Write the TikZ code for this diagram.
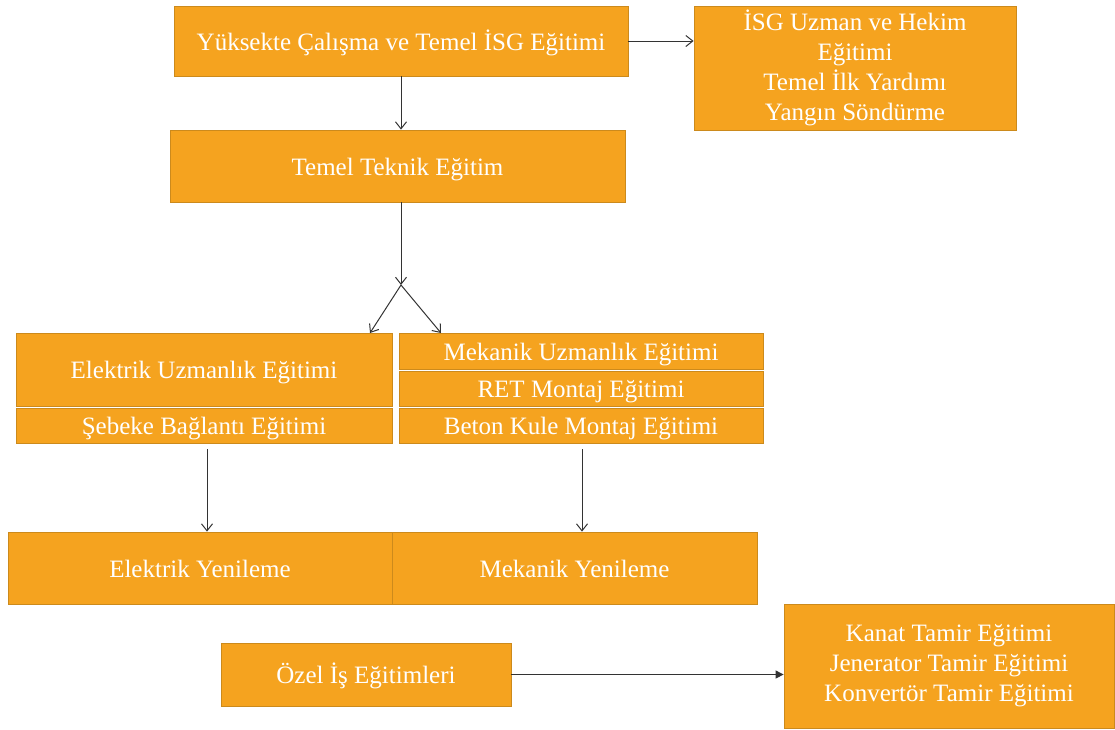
\documentclass[tikz,border=0pt]{standalone}
\usepackage{fontspec}
\setmainfont{Liberation Serif}
\usetikzlibrary{arrows.meta,calc}
\definecolor{boxfill}{HTML}{F5A31F}
\definecolor{boxline}{HTML}{CC8A1C}
\definecolor{linkcol}{HTML}{333333}
\tikzset{
  stage/.style={draw=boxline, line width=0.8pt, fill=boxfill, text=white,
    inner sep=0pt, align=center, font=\fontsize{25}{30}\selectfont},
  oneline/.style={stage, text height=18pt, text depth=0pt},
  flow/.style={draw=linkcol, line width=1pt, -{Straight Barb[length=7pt,width=11pt]}},
  flowsolid/.style={draw=linkcol, line width=1pt, -{Triangle[length=8pt,width=8pt]}}
}
\begin{document}
\begin{tikzpicture}[x=1pt,y=-1pt]
\useasboundingbox (0,0) rectangle (1115,729);

% top row
\node[oneline, minimum width=454pt, minimum height=70pt] (basic) at (401,41) {Yüksekte Çalışma ve Temel İSG Eğitimi};
\node[stage, minimum width=322pt, minimum height=124pt] (isg) at (855,68)
  {İSG Uzman ve Hekim\\Eğitimi\\Temel İlk Yardımı\\Yangın Söndürme};
\node[oneline, minimum width=455pt, minimum height=72pt] (tech) at (397.5,166) {Temel Teknik Eğitim};

% specialisation blocks
\node[oneline, minimum width=376pt, minimum height=73pt] (elec) at (204,369.5) {Elektrik Uzmanlık Eğitimi};
\node[oneline, minimum width=376pt, minimum height=35pt] (grid) at (204,425.5) {Şebeke Bağlantı Eğitimi};
\node[oneline, minimum width=364pt, minimum height=36pt] (mech) at (581,351) {Mekanik Uzmanlık Eğitimi};
\node[oneline, minimum width=364pt, minimum height=35pt] (ret) at (581,388.5) {RET Montaj Eğitimi};
\node[oneline, minimum width=364pt, minimum height=35pt] (tower) at (581,425.5) {Beton Kule Montaj Eğitimi};

% refresher training
\node[oneline, minimum width=384pt, minimum height=72pt] (erenew) at (200,568) {Elektrik Yenileme};
\node[oneline, minimum width=365pt, minimum height=72pt] (mrenew) at (574.5,568) {Mekanik Yenileme};

% special jobs
\node[oneline, minimum width=290pt, minimum height=63pt] (special) at (366,674.5) {Özel İş Eğitimleri};
\node[stage, minimum width=330pt, minimum height=124pt] (repair) at (949,666)
  {Kanat Tamir Eğitimi\\Jenerator Tamir Eğitimi\\Konvertör Tamir Eğitimi};

% connectors
\coordinate (split) at (401,285);
\coordinate (tipL) at (370,333);
\coordinate (tipR) at (441,333);

\draw[flow] (basic.east) -- (basic.east -| isg.west);
\draw[flow] (basic.south) -- (basic.south |- tech.north);
\draw[flow] (tech.south -| split) -- (split);
\draw[flow] (split) -- (tipL);
\draw[flow] (split) -- (tipR);
\draw[flow] ([xshift=3pt,yshift=-6pt]grid.south) -- ([xshift=3pt]grid.south |- erenew.north);
\draw[flow] ([xshift=1pt,yshift=-6pt]tower.south) -- ([xshift=1pt]tower.south |- mrenew.north);
\draw[flowsolid] (special.east) -- (special.east -| repair.west);
\end{tikzpicture}
\end{document}
